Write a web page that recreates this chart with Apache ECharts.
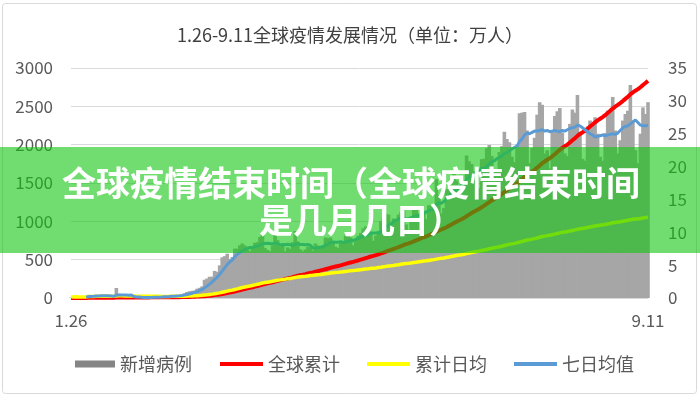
<!DOCTYPE html>
<html>
<head>
<meta charset="utf-8">
<script src="https://cdn.jsdelivr.net/npm/echarts@6/dist/echarts.min.js"></script>
<style>html,body{margin:0;padding:0;background:#fff}#c{width:700px;height:400px}</style>
</head>
<body>
<div id="c"></div>
<script>
// date ranges used to build category labels (month, firstDay, lastDay)
var monthRanges = [[1,26,31],[2,1,29],[3,1,31],[4,1,30],[5,1,31],[6,1,30],[7,1,31],[8,1,31],[9,1,11]];
var categories = [];
monthRanges.forEach(function (r) { for (var d = r[1]; d <= r[2]; d++) categories.push(r[0] + '.' + d); });

var titleText = '1.26-9.11全球疫情发展情况（单位：万人）';
var leftTicks = {min: 0, max: 3000, interval: 500};
var rightTicks = {min: 0, max: 35, interval: 5};
var seriesNames = ['新增病例', '全球累计', '累计日均', '七日均值'];

// 新增病例 (万人, right axis)
var newCases = [
0.07,0.08,0.27,0.06,0.20,0.17,0.21,0.48,0.31,0.40,
0.37,0.32,0.36,0.27,0.31,0.26,0.20,0.04,1.52,0.65,
0.22,0.21,0.21,0.19,0.05,0.05,0.06,0.18,0.04,0.05,
0.09,0.10,0.13,0.14,0.19,0.24,0.19,0.25,0.23,0.28,
0.39,0.40,0.40,0.38,0.50,0.73,0.91,1.02,1.09,1.14,
1.41,1.55,1.77,2.78,2.96,3.23,3.25,4.12,3.98,4.97,
6.19,6.37,6.74,5.94,6.23,7.51,7.5,8.0,8.3,8.0,
7.4,7.1,7.5,8.4,8.5,9.3,9.8,7.6,7.3,7.1,
8.0,9.6,8.8,7.8,8.3,7.1,7.7,7.5,8.5,10.2,
8.6,7.4,7.1,7.4,7.8,7.8,7.2,8.3,8.0,7.6,
8.0,9.2,9.1,9.2,8.6,7.8,7.6,8.4,8.5,9.5,
10.0,9.2,8.0,8.8,9.5,9.9,10.6,10.9,9.9,9.8,
8.7,9.5,10.2,11.7,12.2,12.8,12.7,9.5,12.1,11.9,
12.7,13.1,13.6,11.2,10.2,12.4,13.5,13.8,12.9,13.6,
13.3,12.0,14.1,14.2,14.0,18.1,15.7,12.9,13.7,16.6,
17.1,17.8,19.1,17.9,16.1,15.9,17.4,21.7,20.8,20.4,
19.3,18.3,16.7,21.1,21.2,22.8,23.3,21.6,19.3,19.2,
22.2,23.1,25.3,24.2,23.7,21.5,20.7,23.3,28.1,28.2,
28.3,25.5,20.5,22.8,24.4,27.9,29.8,29.4,22.0,22.5,
19.7,25.5,27.7,28.4,28.9,25.2,22.0,21.6,26.5,28.7,
28.2,30.9,25.0,21.2,20.9,26.1,27.0,26.5,27.5,25.0,
21.5,20.9,25.1,28.5,28.3,30.6,25.5,22.0,24.0,27.0,
28.0,28.5,32.4,27.0,22.5,20.5,25.0,29.0,28.0,29.8
];

// 全球累计 (万人, left axis)
var cumulative = [
0.21,0.29,0.56,0.62,0.82,0.99,1.20,1.68,1.99,2.39,
2.76,3.08,3.44,3.71,4.02,4.28,4.48,4.52,6.04,6.69,
6.91,7.12,7.33,7.52,7.57,7.62,7.68,7.86,7.90,7.95,
8.04,8.14,8.27,8.41,8.60,8.84,9.03,9.28,9.51,9.79,
10.18,10.58,10.98,11.36,11.86,12.59,13.5,14.52,15.61,16.75,
18.16,19.71,21.48,24.26,27.22,30.45,33.70,37.82,41.80,46.77,
52.96,59.33,66.07,72.01,78.24,85.75,93.3,101.3,109.6,117.6,
125.0,132.1,139.6,148.0,156.5,165.8,175.6,183.2,190.5,197.6,
205.6,215.2,224.0,231.8,240.1,247.2,254.9,262.4,270.9,281.1,
289.7,297.1,304.2,311.6,319.4,327.2,334.4,342.7,350.7,358.3,
366.3,375.5,384.6,393.8,402.4,410.2,417.8,426.2,434.7,444.2,
454.2,463.4,471.4,480.2,489.7,499.6,510.2,521.1,531.0,540.8,
549.5,559.0,569.2,580.9,593.1,605.9,618.6,628.1,640.2,652.1,
664.8,677.9,691.5,702.7,712.9,725.3,738.8,752.6,765.5,779.1,
792.4,804.4,818.5,832.7,846.7,864.8,880.5,893.4,907.1,923.7,
940.8,958.6,977.7,995.6,1011.7,1027.6,1045.0,1066.7,1087.5,1107.9,
1127.2,1145.5,1162.2,1183.3,1204.5,1227.3,1250.6,1272.2,1291.5,1310.7,
1332.9,1356.0,1381.3,1405.5,1429.2,1450.7,1471.4,1494.7,1522.8,1551.0,
1579.2,1604.7,1625.2,1648.0,1672.4,1700.3,1729.4,1758.6,1780.6,1803.1,
1822.8,1848.3,1876.0,1904.4,1932.6,1957.8,1979.8,2001.4,2027.9,2056.6,
2084.8,2114.6,2139.6,2160.8,2181.7,2207.8,2235.9,2263.4,2291.4,2317.0,
2338.5,2359.4,2384.5,2413.0,2441.3,2470.5,2496.0,2518.0,2542.0,2569.0,
2597.0,2625.0,2656.0,2682.0,2704.0,2724.0,2749.0,2778.0,2804.0,2832.0
];

// 累计日均 (万人, right axis)
var dailyAvg = [
0.21,0.15,0.19,0.16,0.16,0.17,0.17,0.21,0.22,0.24,
0.25,0.26,0.26,0.27,0.27,0.27,0.26,0.25,0.32,0.33,
0.33,0.32,0.32,0.31,0.30,0.29,0.28,0.28,0.27,0.27,
0.26,0.25,0.25,0.25,0.25,0.25,0.24,0.24,0.24,0.24,
0.25,0.25,0.26,0.26,0.26,0.27,0.29,0.30,0.32,0.34,
0.36,0.38,0.41,0.45,0.49,0.54,0.59,0.65,0.71,0.78,
0.87,0.96,1.05,1.13,1.20,1.30,1.39,1.49,1.59,1.68,
1.76,1.83,1.91,2.00,2.09,2.18,2.28,2.35,2.41,2.47,
2.54,2.62,2.70,2.76,2.82,2.87,2.93,2.98,3.04,3.12,
3.18,3.23,3.27,3.31,3.36,3.41,3.45,3.50,3.54,3.58,
3.63,3.68,3.73,3.79,3.83,3.87,3.90,3.95,3.99,4.04,
4.09,4.14,4.17,4.21,4.26,4.31,4.36,4.42,4.46,4.51,
4.54,4.58,4.63,4.68,4.74,4.81,4.87,4.91,4.96,5.02,
5.07,5.14,5.20,5.24,5.28,5.33,5.39,5.45,5.51,5.57,
5.62,5.66,5.72,5.78,5.84,5.92,5.99,6.04,6.09,6.16,
6.23,6.31,6.39,6.46,6.53,6.59,6.66,6.75,6.84,6.92,
7.00,7.07,7.13,7.22,7.30,7.39,7.49,7.57,7.64,7.71,
7.79,7.88,7.98,8.08,8.17,8.24,8.31,8.40,8.51,8.62,
8.72,8.82,8.88,8.96,9.04,9.14,9.25,9.35,9.42,9.49,
9.54,9.63,9.72,9.82,9.91,9.99,10.05,10.11,10.19,10.28,
10.37,10.47,10.54,10.59,10.64,10.72,10.80,10.88,10.96,11.03,
11.08,11.13,11.19,11.28,11.35,11.44,11.50,11.55,11.61,11.68,
11.75,11.82,11.91,11.97,12.02,12.05,12.11,12.18,12.24,12.31
];

// 七日均值 (万人, right axis)
var weekAvg = [
null,null,null,null,null,null,0.15,0.21,0.24,0.26,
0.31,0.32,0.35,0.36,0.33,0.33,0.30,0.25,0.42,0.46,
0.46,0.44,0.44,0.43,0.44,0.23,0.14,0.14,0.11,0.09,
0.07,0.08,0.09,0.10,0.11,0.13,0.15,0.18,0.20,0.22,
0.25,0.28,0.31,0.33,0.37,0.44,0.53,0.62,0.72,0.82,
0.97,1.12,1.27,1.54,1.81,2.12,2.42,2.81,3.16,3.61,
4.10,4.59,5.09,5.47,5.77,6.28,6.65,6.91,7.18,7.36,
7.57,7.69,7.69,7.81,7.89,8.03,8.29,8.31,8.34,8.29,
8.23,8.39,8.31,8.03,8.13,8.10,8.19,8.11,7.96,8.16,
8.27,8.14,8.14,8.10,8.14,8.04,7.61,7.57,7.66,7.73,
7.81,8.01,8.20,8.49,8.53,8.50,8.50,8.56,8.46,8.51,
8.63,8.71,8.74,8.91,9.07,9.27,9.43,9.56,9.66,9.91,
9.90,9.90,9.94,10.10,10.29,10.70,11.11,11.23,11.60,11.84,
11.99,12.11,12.23,12.01,12.11,12.16,12.39,12.54,12.51,12.51,
12.81,13.07,13.31,13.41,13.44,14.19,14.49,14.43,14.67,15.03,
15.44,15.99,16.13,16.44,16.90,17.21,17.33,17.99,18.41,18.60,
18.80,19.11,19.23,19.76,19.69,19.97,20.39,20.71,20.86,21.21,
21.37,21.64,22.0,22.1,22.4,22.7,22.9,23.1,23.8,24.2,
24.8,25.1,25.0,25.2,25.4,25.4,25.5,25.6,25.4,25.5,
25.3,25.4,25.5,25.4,25.3,25.5,25.4,25.6,25.8,25.9,
26.0,26.3,26.2,25.9,25.6,25.3,25.0,24.8,24.5,24.6,
24.7,24.8,24.7,24.8,24.9,25.0,24.9,25.1,25.5,25.9,
26.1,26.2,26.5,26.8,27.1,26.7,26.3,26.2,26.2,26.3
];

var bannerLine1 = '全球疫情结束时间（全球疫情结束时间';
var bannerLine2 = '是几月几日）';

var FONT = '"Noto Sans CJK SC", "Noto Sans", sans-serif';
var chart = echarts.init(document.getElementById('c'), null, {renderer: 'canvas'});
var lastIdx = categories.length - 1;
var legendText = {fontSize: 18, color: '#595959', fontFamily: FONT};
chart.setOption({
  animation: false,
  backgroundColor: '#ffffff',
  textStyle: {fontFamily: FONT},
  title: {
    text: titleText, left: 'center', top: 21,
    textStyle: {fontSize: 18, fontWeight: 'normal', color: '#404040', fontFamily: FONT}
  },
  grid: {left: 71, right: 52, top: 68, bottom: 102},
  legend: [
    {
      top: 355, left: 75, padding: 0, itemWidth: 40, itemHeight: 7, itemGap: 26,
      textStyle: legendText,
      data: [{name: seriesNames[0], icon: 'rect', itemStyle: {color: '#858585'}}]
    },
    {
      top: 355, left: 220, padding: 0, itemWidth: 43, itemHeight: 4, itemGap: 27,
      textStyle: legendText,
      data: [
        {name: seriesNames[1], icon: 'rect', itemStyle: {color: '#ff0000'}},
        {name: seriesNames[2], icon: 'rect', itemStyle: {color: '#ffff00'}},
        {name: seriesNames[3], icon: 'rect', itemStyle: {color: '#5b9bd5'}}
      ]
    }
  ],
  xAxis: {
    type: 'category', data: categories, boundaryGap: false,
    axisLine: {lineStyle: {color: '#d9d9d9', width: 1}},
    axisTick: {show: false},
    axisLabel: {
      interval: function (i) { return i === 0 || i === lastIdx; },
      color: '#595959', fontSize: 17, margin: 14, fontFamily: FONT
    },
    splitLine: {show: false}
  },
  yAxis: [
    {
      type: 'value', min: leftTicks.min, max: leftTicks.max, interval: leftTicks.interval,
      axisLine: {show: false}, axisTick: {show: false},
      axisLabel: {color: '#595959', fontSize: 17, margin: 18, fontFamily: FONT,
                  formatter: function (v) { return String(v); }},
      splitLine: {lineStyle: {color: '#d9d9d9', width: 1}}
    },
    {
      type: 'value', position: 'right', min: rightTicks.min, max: rightTicks.max, interval: rightTicks.interval,
      axisLine: {show: false}, axisTick: {show: false},
      axisLabel: {color: '#595959', fontSize: 17, margin: 20, fontFamily: FONT},
      splitLine: {show: false}
    }
  ],
  series: [
    {name: seriesNames[0], type: 'bar', yAxisIndex: 1, data: newCases,
     barWidth: 3.6, itemStyle: {color: '#a6a6a6'}, z: 1},
    {name: seriesNames[1], type: 'line', yAxisIndex: 0, data: cumulative, symbol: 'none',
     lineStyle: {color: '#ff0000', width: 4}, itemStyle: {color: '#ff0000'}, z: 3},
    {name: seriesNames[2], type: 'line', yAxisIndex: 1, data: dailyAvg, symbol: 'none',
     lineStyle: {color: '#ffff00', width: 3.5}, itemStyle: {color: '#ffff00'}, z: 4},
    {name: seriesNames[3], type: 'line', yAxisIndex: 1, data: weekAvg, symbol: 'none',
     lineStyle: {color: '#5b9bd5', width: 3}, itemStyle: {color: '#5b9bd5'}, z: 5}
  ],
  graphic: [
    {type: 'rect', z: 0, silent: true,
     shape: {x: 2.5, y: 3.5, width: 694, height: 390, r: 3},
     style: {fill: 'none', stroke: '#d9d9d9', lineWidth: 1}},
    {type: 'rect', z: 100, silent: true,
     shape: {x: 0, y: 147, width: 700, height: 106},
     style: {fill: 'rgba(18,198,18,0.6)'}},
    {type: 'text', z: 101, silent: true, x: 351, y: 183,
     style: {text: bannerLine1, fill: '#ffffff', fontSize: 34, fontWeight: 'bold', fontFamily: FONT,
             textAlign: 'center', textVerticalAlign: 'middle', align: 'center', verticalAlign: 'middle'}},
    {type: 'text', z: 101, silent: true, x: 259, y: 220,
     style: {text: bannerLine2, fill: '#ffffff', fontSize: 34, fontWeight: 'bold', fontFamily: FONT,
             textAlign: 'left', textVerticalAlign: 'middle', align: 'left', verticalAlign: 'middle'}}
  ]
});
</script>
</body>
</html>
